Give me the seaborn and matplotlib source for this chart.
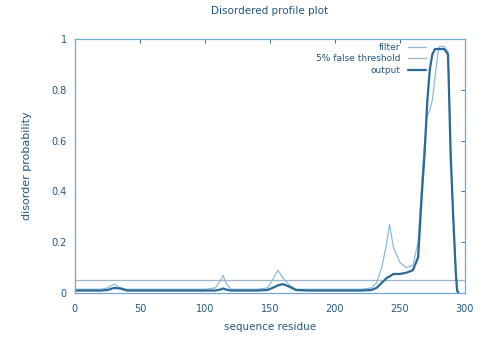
import numpy as np
import pandas as pd
import matplotlib
matplotlib.use('Agg')
import matplotlib.pyplot as plt
import seaborn as sns

# residue positions and values
residue = [0, 10, 20, 25, 30, 35, 40, 50, 60, 70, 80, 90, 100, 108, 112, 114, 116, 120,
           130, 140, 148, 152, 156, 160, 165, 170, 180, 190, 200, 210, 220, 228, 232,
           236, 240, 242, 245, 250, 255, 260, 264, 267, 269, 271, 273, 275, 277, 280,
           284, 287, 288, 289, 291, 293, 294, 295]

output = [0.01, 0.01, 0.01, 0.012, 0.02, 0.018, 0.01, 0.01, 0.01, 0.01, 0.01, 0.01, 0.01,
          0.01, 0.014, 0.018, 0.014, 0.01, 0.01, 0.01, 0.012, 0.02, 0.03, 0.035, 0.025,
          0.012, 0.01, 0.01, 0.01, 0.01, 0.01, 0.012, 0.02, 0.04, 0.06, 0.065, 0.075,
          0.075, 0.08, 0.09, 0.14, 0.4, 0.55, 0.75, 0.88, 0.94, 0.96, 0.96, 0.96, 0.94,
          0.75, 0.55, 0.3, 0.08, 0.01, 0.0]

filt = [0.015, 0.015, 0.015, 0.02, 0.035, 0.02, 0.015, 0.015, 0.015, 0.015, 0.015, 0.015,
        0.015, 0.02, 0.05, 0.07, 0.04, 0.015, 0.015, 0.015, 0.02, 0.05, 0.09, 0.06, 0.03,
        0.015, 0.015, 0.015, 0.015, 0.015, 0.015, 0.02, 0.04, 0.1, 0.2, 0.27, 0.18,
        0.12, 0.1, 0.11, 0.2, 0.45, 0.6, 0.7, 0.72, 0.76, 0.85, 0.97, 0.97, 0.95,
        0.78, 0.58, 0.32, 0.1, 0.02, 0.0]

threshold = 0.05

df = pd.DataFrame({'residue': residue, 'output': output, 'filter': filt})

sns.set_style('white')
plt.rcParams['font.family'] = ['DejaVu Sans']

fig = plt.figure(figsize=(4.93, 3.38), dpi=100)
ax = fig.add_axes([0.152, 0.133, 0.791, 0.752])

txt = '#24577e'
sns.lineplot(data=df, x='residue', y='filter', ax=ax, color='#8cbadb', linewidth=0.9, label='filter')
ax.axhline(threshold, color='#9fb6c6', linewidth=0.9, label='5% false threshold')
sns.lineplot(data=df, x='residue', y='output', ax=ax, color='#2a6a95', linewidth=1.6, label='output')

ax.set_xlim(0, 300)
ax.set_ylim(0, 1)
ax.set_xticks(range(0, 301, 50))
ax.set_yticks([0, 0.2, 0.4, 0.6, 0.8, 1])
ax.set_yticklabels(['0', '0.2', '0.4', '0.6', '0.8', '1'])
ax.tick_params(direction='in', top=True, right=True, length=3, width=0.6,
               labelsize=7, colors=txt)
ax.tick_params(axis='x', pad=8)
ax.tick_params(axis='y', pad=6)
for s in ax.spines.values():
    s.set_color('#6fa8d0')
    s.set_linewidth(0.9)

ax.set_title('Disordered profile plot', fontsize=7.5, color=txt, pad=18)
ax.set_xlabel('sequence residue', fontsize=7.5, color=txt, labelpad=6)
ax.set_ylabel('disorder probability', fontsize=8, color=txt, labelpad=14)

leg = ax.legend(loc='upper right', bbox_to_anchor=(0.92, 1.015), frameon=False,
                markerfirst=False, fontsize=6.5, handlelength=2.0, labelspacing=0.25)
for t in leg.get_texts():
    t.set_color(txt)

fig.savefig('out.png', dpi=100)
